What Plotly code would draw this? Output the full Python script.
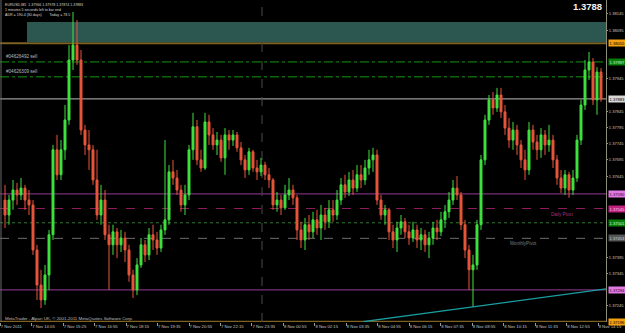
import plotly.graph_objects as go

# ---------------- data (EURUSD, compressed candles) ----------------
opens = [
    1.37571, 1.37525, 1.37571, 1.37602, 1.37587, 1.37608, 1.37571, 1.37556, 1.37417, 1.37309,
    1.37263, 1.37340, 1.37464, 1.37726, 1.37649, 1.37726, 1.37818, 1.38003, 1.38049, 1.38003,
    1.37787, 1.37741, 1.37726, 1.37633, 1.37525, 1.37571, 1.37464, 1.37433, 1.37473, 1.37433,
    1.37454, 1.37417, 1.37340, 1.37294, 1.37371, 1.37433, 1.37402, 1.37464, 1.37448, 1.37423,
    1.37479, 1.37510, 1.37658, 1.37639, 1.37602, 1.37556, 1.37587, 1.37726, 1.37797, 1.37695,
    1.37670, 1.37812, 1.37772, 1.37741, 1.37756, 1.37701, 1.37772, 1.37756, 1.37772, 1.37732,
    1.37695, 1.37664, 1.37720, 1.37670, 1.37658, 1.37679, 1.37649, 1.37633, 1.37556, 1.37571,
    1.37547, 1.37587, 1.37602, 1.37578, 1.37479, 1.37448, 1.37495, 1.37473, 1.37510, 1.37485,
    1.37525, 1.37504, 1.37541, 1.37525, 1.37571, 1.37618, 1.37596, 1.37633, 1.37608, 1.37649,
    1.37633, 1.37670, 1.37695, 1.37710, 1.37571, 1.37525, 1.37541, 1.37473, 1.37448, 1.37485,
    1.37504, 1.37473, 1.37454, 1.37479, 1.37448, 1.37464, 1.37433, 1.37454, 1.37485, 1.37473,
    1.37510, 1.37535, 1.37571, 1.37608, 1.37587, 1.37495, 1.37417, 1.37356, 1.37371, 1.37495,
    1.37695, 1.37818, 1.37880, 1.37855, 1.37895, 1.37843, 1.37793, 1.37756, 1.37787, 1.37741,
    1.37695, 1.37664, 1.37787, 1.37750, 1.37726, 1.37772, 1.37741, 1.37756, 1.37695, 1.37639,
    1.37608, 1.37649, 1.37602, 1.37639, 1.37756, 1.37864, 1.37972, 1.37997, 1.37880, 1.37966,
]
highs = [
    1.37618, 1.37587, 1.37633, 1.37624, 1.37639, 1.37618, 1.37602, 1.37571, 1.37433, 1.37356,
    1.37371, 1.37479, 1.37741, 1.37772, 1.37756, 1.37864, 1.38049, 1.38151, 1.38126, 1.38034,
    1.37803, 1.37787, 1.37741, 1.37726, 1.37618, 1.37602, 1.37495, 1.37495, 1.37485, 1.37479,
    1.37473, 1.37433, 1.37356, 1.37392, 1.37454, 1.37448, 1.37485, 1.37495, 1.37473, 1.37495,
    1.37756, 1.37679, 1.37695, 1.37664, 1.37618, 1.37618, 1.37741, 1.37840, 1.37818, 1.37726,
    1.37840, 1.37834, 1.37793, 1.37781, 1.37772, 1.37793, 1.37787, 1.37787, 1.37781, 1.37750,
    1.37710, 1.37732, 1.37726, 1.37695, 1.37701, 1.37689, 1.37670, 1.37639, 1.37596, 1.37587,
    1.37618, 1.37639, 1.37618, 1.37587, 1.37504, 1.37516, 1.37525, 1.37535, 1.37541, 1.37556,
    1.37547, 1.37571, 1.37571, 1.37602, 1.37639, 1.37649, 1.37658, 1.37664, 1.37679, 1.37679,
    1.37695, 1.37726, 1.37732, 1.37726, 1.37587, 1.37556, 1.37547, 1.37495, 1.37504, 1.37525,
    1.37516, 1.37495, 1.37504, 1.37495, 1.37485, 1.37479, 1.37473, 1.37504, 1.37510, 1.37535,
    1.37556, 1.37596, 1.37633, 1.37645, 1.37596, 1.37510, 1.37433, 1.37402, 1.37510, 1.37710,
    1.37834, 1.37895, 1.37904, 1.37917, 1.37917, 1.37864, 1.37824, 1.37812, 1.37803, 1.37756,
    1.37726, 1.37812, 1.37803, 1.37772, 1.37793, 1.37787, 1.37803, 1.37772, 1.37710, 1.37664,
    1.37664, 1.37658, 1.37664, 1.37772, 1.37880, 1.38003, 1.38028, 1.38009, 1.37981, 1.37978,
]
lows = [
    1.37485, 1.37495, 1.37541, 1.37556, 1.37571, 1.37541, 1.37525, 1.37402, 1.37263, 1.37238,
    1.37248, 1.37294, 1.37448, 1.37633, 1.37633, 1.37695, 1.37803, 1.37972, 1.37988, 1.37772,
    1.37710, 1.37664, 1.37618, 1.37510, 1.37495, 1.37448, 1.37294, 1.37402, 1.37392, 1.37411,
    1.37380, 1.37319, 1.37269, 1.37278, 1.37362, 1.37380, 1.37386, 1.37417, 1.37402, 1.37411,
    1.37464, 1.37495, 1.37618, 1.37587, 1.37535, 1.37525, 1.37571, 1.37695, 1.37679, 1.37658,
    1.37664, 1.37741, 1.37726, 1.37710, 1.37689, 1.37649, 1.37726, 1.37738, 1.37720, 1.37679,
    1.37639, 1.37649, 1.37658, 1.37633, 1.37645, 1.37633, 1.37608, 1.37541, 1.37535, 1.37525,
    1.37541, 1.37571, 1.37556, 1.37448, 1.37423, 1.37417, 1.37448, 1.37454, 1.37464, 1.37448,
    1.37479, 1.37485, 1.37504, 1.37510, 1.37556, 1.37578, 1.37584, 1.37587, 1.37596, 1.37608,
    1.37618, 1.37649, 1.37658, 1.37556, 1.37510, 1.37495, 1.37448, 1.37423, 1.37411, 1.37464,
    1.37454, 1.37433, 1.37442, 1.37423, 1.37417, 1.37411, 1.37392, 1.37433, 1.37448, 1.37460,
    1.37485, 1.37516, 1.37556, 1.37571, 1.37479, 1.37392, 1.37294, 1.37241, 1.37356, 1.37479,
    1.37679, 1.37803, 1.37834, 1.37843, 1.37824, 1.37772, 1.37732, 1.37726, 1.37710, 1.37670,
    1.37633, 1.37649, 1.37726, 1.37695, 1.37701, 1.37710, 1.37720, 1.37670, 1.37618, 1.37593,
    1.37587, 1.37578, 1.37587, 1.37627, 1.37741, 1.37849, 1.37941, 1.37864, 1.37834, 1.37874,
]
closes = [
    1.37525, 1.37571, 1.37602, 1.37587, 1.37608, 1.37571, 1.37556, 1.37417, 1.37309, 1.37263,
    1.37340, 1.37464, 1.37726, 1.37649, 1.37726, 1.37818, 1.38003, 1.38049, 1.38003, 1.37787,
    1.37741, 1.37726, 1.37633, 1.37525, 1.37571, 1.37464, 1.37433, 1.37473, 1.37433, 1.37454,
    1.37417, 1.37340, 1.37294, 1.37371, 1.37433, 1.37402, 1.37464, 1.37448, 1.37423, 1.37479,
    1.37510, 1.37658, 1.37639, 1.37602, 1.37556, 1.37587, 1.37726, 1.37797, 1.37695, 1.37670,
    1.37812, 1.37772, 1.37741, 1.37756, 1.37701, 1.37772, 1.37756, 1.37772, 1.37732, 1.37695,
    1.37664, 1.37720, 1.37670, 1.37658, 1.37679, 1.37649, 1.37633, 1.37556, 1.37571, 1.37547,
    1.37587, 1.37602, 1.37578, 1.37479, 1.37448, 1.37495, 1.37473, 1.37510, 1.37485, 1.37525,
    1.37504, 1.37541, 1.37525, 1.37571, 1.37618, 1.37596, 1.37633, 1.37608, 1.37649, 1.37633,
    1.37670, 1.37695, 1.37710, 1.37571, 1.37525, 1.37541, 1.37473, 1.37448, 1.37485, 1.37504,
    1.37473, 1.37454, 1.37479, 1.37448, 1.37464, 1.37433, 1.37454, 1.37485, 1.37473, 1.37510,
    1.37535, 1.37571, 1.37608, 1.37587, 1.37495, 1.37417, 1.37356, 1.37371, 1.37495, 1.37695,
    1.37818, 1.37880, 1.37855, 1.37895, 1.37843, 1.37793, 1.37756, 1.37787, 1.37741, 1.37695,
    1.37664, 1.37787, 1.37750, 1.37726, 1.37772, 1.37741, 1.37756, 1.37695, 1.37639, 1.37608,
    1.37649, 1.37602, 1.37639, 1.37756, 1.37864, 1.37972, 1.37997, 1.37880, 1.37966, 1.37883,
]
bar_index = list(range(len(closes)))

time_labels = [
    "7 Nov 2011", "7 Nov 14:05", "7 Nov 15:25", "7 Nov 16:55", "7 Nov 18:15",
    "7 Nov 19:35", "7 Nov 20:55", "7 Nov 22:15", "7 Nov 23:35", "8 Nov 00:55",
    "8 Nov 02:15", "8 Nov 03:35", "8 Nov 04:55", "8 Nov 06:15", "8 Nov 07:35",
    "8 Nov 08:55", "8 Nov 10:15", "8 Nov 11:35", "8 Nov 12:55", "8 Nov 14:15",
]
price_ticks = [1.38145, 1.38095, 1.37945, 1.37845, 1.37795, 1.37745,
               1.37695, 1.37645, 1.37395, 1.37345, 1.37245]

zone_bottom, zone_top = 1.38058, 1.38120
zone_start_bar = 5.5
orange_level = 1.38055
sell_levels = [1.37997, 1.37951]
sell_labels = ["#04626492 sell", "#04626309 sell"]
bid_level = 1.37883
purple_levels = [1.37590, 1.37294]
daily_pivot = 1.37545
green_dotted_level = 1.37501
monthly_pivot = 1.37453
bottom_level = 1.37196
day_separator_bar = 64.25
trend_x = [89.5, 150.25]
trend_y = [1.37196, 1.37297]

header_lines = [
    "EURUSD,M5  1.37966 1.37978 1.37874 1.37883",
    "1 minutes 5 seconds left to bar end",
    "ADR = 190.4 (30 days)        Today = 78.5",
]
copyright_text = "MetaTrader - Alpari UK, \u00a9 2001-2011 MetaQuotes Software Corp."
big_price_text = "1.3788"

# ---------------- layout geometry ----------------
W, H = 625, 333
PL, PR, PT, PB = 0, 19, 0, 11
PW, PH = W - PL - PR, H - PT - PB
X0, X1 = -1.25, len(closes) + 0.25
Y0, Y1 = 1.37195, 1.38188
FONT = "Liberation Sans"
AXFONT = 4.1


def py(px):  # pixel row -> paper y
    return 1 - px / PH


def pxx(px):  # pixel col -> paper x
    return px / PW


tick_pos = [(31.47 * k) / (PW / (X1 - X0)) + X0 + 0.05 for k in range(len(time_labels))]

fig = go.Figure()

fig.add_trace(go.Candlestick(
    x=bar_index, open=opens, high=highs, low=lows, close=closes,
    increasing=dict(line=dict(color="#3ee23e", width=1), fillcolor="#3ee23e"),
    decreasing=dict(line=dict(color="#e8553a", width=1), fillcolor="#e8553a"),
    whiskerwidth=0, hoverinfo="skip", showlegend=False,
))

fig.add_trace(go.Scatter(
    x=trend_x, y=trend_y, mode="lines",
    line=dict(color="#1a9ea0", width=1.3), hoverinfo="skip", showlegend=False,
))

shapes = []
shapes.append(dict(type="rect", xref="x", yref="y", x0=zone_start_bar, x1=X1,
                   y0=zone_bottom, y1=zone_top, fillcolor="#2c5650",
                   line=dict(width=0), layer="below"))


def hline(y, color, width=1, dash="solid"):
    shapes.append(dict(type="line", xref="paper", yref="y", x0=0, x1=1, y0=y, y1=y,
                       line=dict(color=color, width=width, dash=dash), layer="below"))


hline(orange_level, "#7d6222", 2)
for lv in sell_levels:
    hline(lv, "#119a11", 1, "dashdot")
hline(bid_level, "#bdbdbd", 1)
for lv in purple_levels:
    hline(lv, "#963c96", 1)
hline(daily_pivot, "#8a1d5a", 1, "dash")
hline(green_dotted_level, "#2f7a2f", 1, "dot")
hline(monthly_pivot, "#6e6e6e", 1, "dash")
hline(bottom_level, "#7d6222", 2)

shapes.append(dict(type="line", xref="x", yref="paper", x0=day_separator_bar, x1=day_separator_bar,
                   y0=0, y1=1, line=dict(color="#4a4a4a", width=1, dash="dash"), layer="below"))
shapes.append(dict(type="line", xref="paper", yref="paper", x0=pxx(1), x1=pxx(1),
                   y0=0, y1=1, line=dict(color="#6a6a6a", width=1), layer="below"))

ann = []
# header
for k, t in enumerate(header_lines):
    ann.append(dict(xref="paper", yref="paper", x=pxx(3), y=py(5 + 5 * k), text=t,
                    xanchor="left", yanchor="middle", showarrow=False,
                    font=dict(family=FONT, size=3.6, color="#d8d8d8")))
ann.append(dict(xref="paper", yref="paper", x=pxx(604), y=py(6.5), text="<b>" + big_price_text + "</b>",
                xanchor="right", yanchor="middle", showarrow=False,
                font=dict(family=FONT, size=9.5, color="#f2f2f2")))
# sell order labels
for lv, t in zip(sell_levels, sell_labels):
    ann.append(dict(xref="paper", yref="y", x=pxx(4), y=lv, text=t, xanchor="left",
                    yanchor="bottom", yshift=1, showarrow=False,
                    font=dict(family=FONT, size=4.6, color="#bcbcbc")))
ann.append(dict(xref="paper", yref="y", x=pxx(549), y=daily_pivot, text="Daily Pivot",
                xanchor="left", yanchor="top", yshift=-1, showarrow=False,
                font=dict(family=FONT, size=4.6, color="#a8307a")))
ann.append(dict(xref="paper", yref="y", x=pxx(508), y=monthly_pivot, text="MonthlyPivot",
                xanchor="left", yanchor="top", yshift=-1, showarrow=False,
                font=dict(family=FONT, size=4.6, color="#7c7c7c")))
ann.append(dict(xref="paper", yref="paper", x=pxx(3), y=py(318), text=copyright_text,
                xanchor="left", yanchor="middle", showarrow=False,
                font=dict(family=FONT, size=4.4, color="#bdbdbd")))

# coloured price tags on the right axis
tags = [
    (orange_level, "#f0a010", "#000000"),
    (sell_levels[0], "#0a7d0a", "#d0ffd0"),
    (bid_level, "#d8d8d8", "#000000"),
    (purple_levels[0], "#e07ae0", "#300030"),
    (daily_pivot, "#c0207e", "#ffd0ee"),
    (green_dotted_level, "#0a7d0a", "#d0ffd0"),
    (monthly_pivot, "#555555", "#d0d0d0"),
    (purple_levels[1], "#e07ae0", "#300030"),
    (bottom_level, "#f0a010", "#000000"),
]
for lv, bg, fg in tags:
    ann.append(dict(xref="paper", yref="y", x=1.0 + 1.5 / PW, y=lv, text=f"{lv:.5f}",
                    xanchor="left", yanchor="middle", showarrow=False, bgcolor=bg,
                    borderpad=0.5, font=dict(family=FONT, size=AXFONT, color=fg)))

fig.update_layout(
    width=W, height=H,
    margin=dict(l=PL, r=PR, t=PT, b=PB, pad=0, autoexpand=False),
    paper_bgcolor="#000000", plot_bgcolor="#000000",
    shapes=shapes, annotations=ann, showlegend=False,
    xaxis=dict(range=[X0, X1], rangeslider=dict(visible=False), showgrid=False,
               zeroline=False, tickmode="array", tickvals=tick_pos, ticktext=time_labels,
               ticks="outside", ticklen=3, tickcolor="#9a9a9a", tickangle=0,
               ticklabelposition="outside right", automargin=False,
               tickfont=dict(family=FONT, size=4.2, color="#c4c4c4"),
               showline=False),
    yaxis=dict(range=[Y0, Y1], side="right", showgrid=False, zeroline=False,
               tickmode="array", tickvals=price_ticks, automargin=False,
               ticktext=[f"{v:.5f}" for v in price_ticks],
               ticks="outside", ticklen=1, tickcolor="#9a9a9a",
               tickfont=dict(family=FONT, size=AXFONT, color="#c4c4c4"),
               showline=True, linecolor="#8c8c78", linewidth=1),
)

fig.write_html("out.html")
